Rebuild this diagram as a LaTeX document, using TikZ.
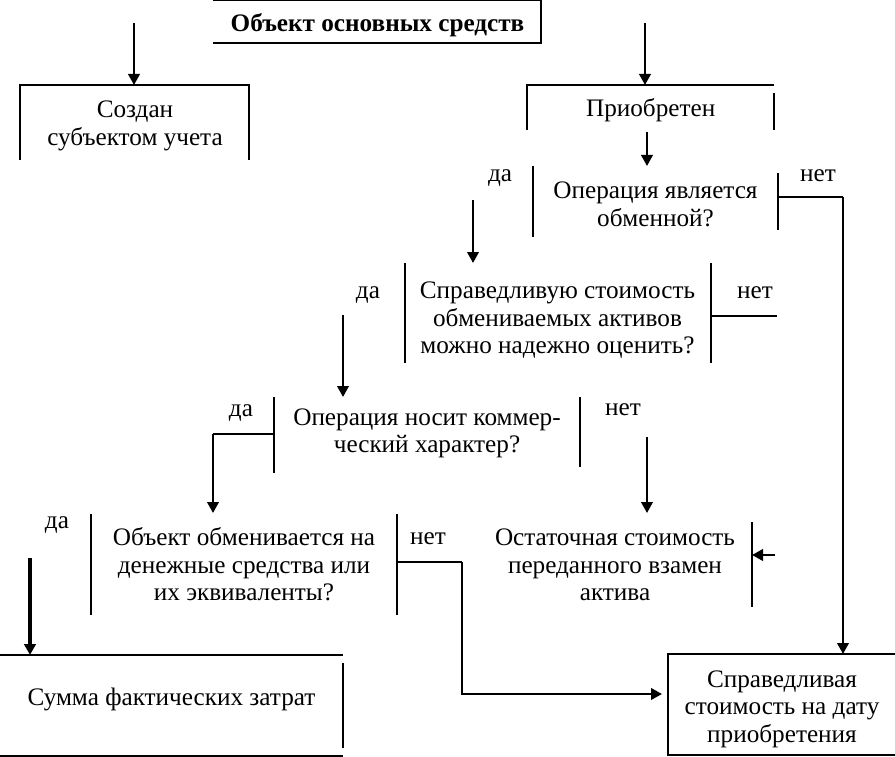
\documentclass[tikz,border=0pt]{standalone}
\usepackage{fontspec}
\setmainfont{Liberation Serif}
\usetikzlibrary{arrows.meta,calc}
\newcommand{\myfs}{\fontsize{25.2}{27.6}\selectfont}
\newcommand{\tb}[1]{\rule{0pt}{18pt}#1\rule[-7pt]{0pt}{7pt}}
\begin{document}
\begin{tikzpicture}[x=1pt,y=-1pt,
  box/.style={draw=none, rectangle, inner sep=0pt, outer sep=0pt},
  txt/.style={inner sep=0pt, outer sep=0pt, align=center, anchor=north, font=\myfs},
  lab/.style={inner sep=0pt, outer sep=0pt, anchor=base, font=\myfs},
  bline/.style={line width=1.1pt},
  arr/.style={line width=2.2pt, -{Triangle[length=11pt,width=11.5pt]}},
  link/.style={line width=1.3pt}]
\useasboundingbox (0,0) rectangle (895,757);

% box geometry
\node[box, minimum width=328pt, minimum height=43pt] (T) at (377,21.5) {};
\node[box, minimum width=229pt, minimum height=75pt] (A) at (134.5,122.5) {};
\node[box, minimum width=247pt, minimum height=45pt] (B) at (650.5,107.5) {};
\node[box, minimum width=245pt, minimum height=71pt] (D1) at (655.5,201.5) {};
\node[box, minimum width=306pt, minimum height=100pt] (D2) at (558,313) {};
\node[box, minimum width=306pt, minimum height=76pt] (D3) at (427,435) {};
\node[box, minimum width=306pt, minimum height=101pt] (D4) at (244,564.5) {};
\node[box, minimum width=272pt, minimum height=85pt] (R) at (616,564.5) {};
\node[box, minimum width=343pt, minimum height=101pt] (S) at (171.5,705.5) {};
\node[box, minimum width=227pt, minimum height=101pt] (F) at (781.5,704.5) {};

% texts (anchor north = first baseline - 18pt)
\node[txt, font=\myfs\bfseries] (Tt) at (377.5,13.5) {\tb{Объект основных средств}};
\node[txt] (At) at (135,99.7) {\tb{Создан\\субъектом учета}};
\node[txt] (Bt) at (650.7,98.7) {\tb{Приобретен}};
\node[txt] (D1t) at (655.5,180.5) {\tb{Операция является\\обменной?}};
\node[txt] (D2t) at (557.5,280.5) {\tb{Справедливую стоимость\\обмениваемых активов\\можно надежно оценить?}};
\node[txt] (D3t) at (427,407) {\tb{Операция носит коммер-\\ческий характер?}};
\node[txt] (D4t) at (244,527.7) {\tb{Объект обменивается на\\денежные средства или\\их эквиваленты?}};
\node[txt] (Rt) at (615,527.7) {\tb{Остаточная стоимость\\переданного взамен\\актива}};
\node[txt] (St) at (171.5,687) {\tb{Сумма фактических затрат}};
\node[txt] (Ft) at (782,669.3) {\tb{Справедливая\\стоимость на дату\\приобретения}};

% labels
\node[lab] (y1) at (500,182) {да};
\node[lab] (n1) at (818,181.5) {нет};
\node[lab] (y2) at (368,298.5) {да};
\node[lab] (n2) at (755,298.5) {нет};
\node[lab] (y3) at (241,416) {да};
\node[lab] (n3) at (623,415) {нет};
\node[lab] (y4) at (57,528) {да};
\node[lab] (n4) at (428,544) {нет};

% box borders (as printed)
\draw[bline] (T.north west) -- (T.north east) -- (T.south east) -- (T.south west);
\draw[bline] (A.south west) -- (A.north west) -- (A.north east) -- (A.south east);
\draw[bline] (B.south west) -- (B.north west) -- (B.north east);
\draw[bline] ([yshift=-8pt]B.north east) -- (B.south east);
\draw[bline] (D1.north west) -- (D1.south west);
\draw[bline] ([yshift=-7pt]D1.north east) -- ([yshift=7pt]D1.south east);
\draw[bline] (D2.north west) -- (D2.south west);
\draw[bline] (D2.north east) -- (D2.south east);
\draw[bline] (D3.north west) -- (D3.south west);
\draw[bline] (D3.north east) -- ([yshift=6pt]D3.south east);
\draw[bline] (D4.north west) -- (D4.south west);
\draw[bline] (D4.north east) -- (D4.south east);
\draw[bline] (R.north east) -- (R.south east);
\draw[bline] (S.north west) -- (S.north east);
\draw[bline] ([yshift=-8pt]S.north east) -- ([yshift=8pt]S.south east);
\draw[bline] (S.south west) -- (S.south east);
\draw[bline] (F.north east) -- (F.north west) -- (F.south west) -- (F.south east);

% free ends
\coordinate (tl) at (134,23);
\coordinate (tr) at (645,23);
\coordinate (d1y) at (473,200);
\coordinate (d2y) at (343,315);
\coordinate (d3n) at (647,437);
\coordinate (d4y) at (30,558);
\coordinate (sa) at (775,555);

% connectors
\draw[arr] (tl) -- (tl |- A.north);
\draw[arr] (tr) -- (tr |- B.north);
\draw[arr] ([xshift=-3.5pt,yshift=-2pt]B.south) -- ([xshift=-3.5pt]B.south |- D1.north);
\draw[arr] (d1y) -- (d1y |- D2.north);
\draw[link] ([yshift=4.5pt]D1.east) -- ++(65,0) coordinate (c1);
\draw[arr] (c1) -- (c1 |- F.north);
\draw[link] ([yshift=-3pt]D2.east) -- ++(66,0);
\draw[arr] (d2y) -- (d2y |- D3.north);
\draw[link] ([yshift=1pt]D3.west) -- ++(-61,0) coordinate (c3);
\draw[arr] (c3) -- ([yshift=1pt]c3 |- D4.north);
\draw[arr] (d3n) -- ([yshift=9pt]d3n |- R.north);
\draw[arr, line width=3.4pt] (d4y) -- (d4y |- S.north);
\draw[link] ([yshift=2.5pt]D4.east) -- ++(65,0) coordinate (c4);
\draw[arr] (c4) |- ([xshift=-6pt,yshift=10.5pt]F.west);
\draw[arr] (sa) -- (sa -| R.east);
\end{tikzpicture}
\end{document}
